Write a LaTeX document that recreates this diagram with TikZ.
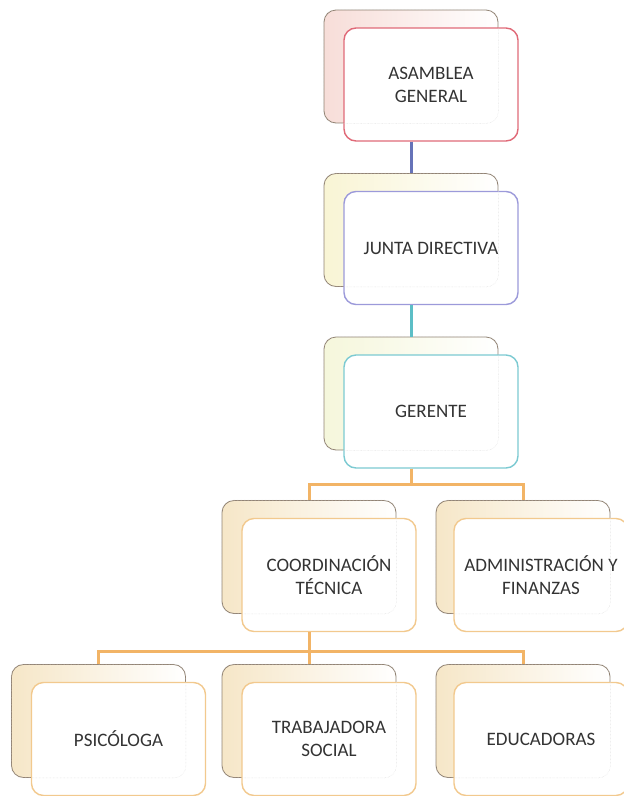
\documentclass[tikz,border=0pt]{standalone}
\usepackage{fontspec}
\setmainfont{Carlito}
\usepackage{xcolor}
\usetikzlibrary{positioning, calc}

\definecolor{txtgray}{HTML}{333333}
\definecolor{redline}{HTML}{E06A78}
\definecolor{lilacline}{HTML}{9C9ADA}
\definecolor{tealline}{HTML}{7CCAD2}
\definecolor{tanline}{HTML}{F2C98E}
\definecolor{bluelink}{HTML}{6673B8}
\definecolor{teallink}{HTML}{5CBEC6}
\definecolor{orangelink}{HTML}{F2B466}
\definecolor{pinkfill}{HTML}{F4CFC8}
\definecolor{yellowfill}{HTML}{F6F0C2}
\definecolor{limefill}{HTML}{F1F3CC}
\definecolor{tanfill}{HTML}{F2DCB0}

\begin{document}
\begin{tikzpicture}[x=1pt,y=-1pt,
    backbox/.style={draw=gray!75!brown, line width=0.8pt, rounded corners=12pt,
      minimum width=174pt, minimum height=113pt, inner sep=0pt,
      left color=#1!70, middle color=white, right color=white},
    frontbox/.style={draw=#1, line width=1.4pt, fill=white, rounded corners=12pt,
      minimum width=174pt, minimum height=113pt, inner sep=0pt, align=center,
      text=txtgray, font=\fontsize{19}{23}\selectfont},
    ghost/.style={densely dotted, gray!30, rounded corners=12pt},
    link/.style={draw=#1, line width=3pt}]
      \useasboundingbox (0,0) rectangle (624,796);

      % asamblea
      \node[backbox=pinkfill] (asambleaB) at (411,66.5) {};
      \node[frontbox=redline] (asamblea) at ($(asambleaB)+(20,18)$) {ASAMBLEA\\GENERAL};
      \draw[ghost] (asambleaB.north west) rectangle (asambleaB.south east);

      % junta
      \node[backbox=yellowfill] (juntaB) at (411,230) {};
      \node[frontbox=lilacline] (junta) at ($(juntaB)+(20,18)$) {JUNTA DIRECTIVA};
      \draw[ghost] (juntaB.north west) rectangle (juntaB.south east);

      % gerente
      \node[backbox=limefill] (gerenteB) at (411,393.5) {};
      \node[frontbox=tealline] (gerente) at ($(gerenteB)+(20,18)$) {GERENTE};
      \draw[ghost] (gerenteB.north west) rectangle (gerenteB.south east);

      % second level
      \node[backbox=tanfill] (coordB) at (309,557) {};
      \node[frontbox=tanline] (coord) at ($(coordB)+(20,18)$) {COORDINACIÓN\\TÉCNICA};
      \draw[ghost] (coordB.north west) rectangle (coordB.south east);

      \node[backbox=tanfill] (adminB) at (523,557) {};
      \node[frontbox=tanline] (admin) at ($(adminB)+(18,18)$) {ADMINISTRACIÓN Y\\FINANZAS};
      \draw[ghost] (adminB.north west) rectangle (adminB.south east);

      % third level
      \node[backbox=tanfill] (psicB) at (98.5,721) {};
      \node[frontbox=tanline] (psic) at ($(psicB)+(20,18)$) {PSICÓLOGA};
      \draw[ghost] (psicB.north west) rectangle (psicB.south east);

      \node[backbox=tanfill] (trabB) at (309,721) {};
      \node[frontbox=tanline] (trab) at ($(trabB)+(20,18)$) {TRABAJADORA\\SOCIAL};
      \draw[ghost] (trabB.north west) rectangle (trabB.south east);

      \node[backbox=tanfill] (educB) at (523,721) {};
      \node[frontbox=tanline] (educ) at ($(educB)+(18,18)$) {EDUCADORAS};
      \draw[ghost] (educB.north west) rectangle (educB.south east);

      % links
      \draw[link=bluelink] (asambleaB.south |- asamblea.south) -- (juntaB.north);
      \draw[link=teallink] (juntaB.south |- junta.south) -- (gerenteB.north);
      \draw[link=orangelink] (gerenteB.south |- gerente.south) -- ++(0,16) -| (coordB.north);
      \draw[link=orangelink] (gerenteB.south |- gerente.south) -- ++(0,16) -| (adminB.north);
      \draw[link=orangelink] (coordB.south |- coord.south) -- ++(0,19) -| (psicB.north);
      \draw[link=orangelink] (coordB.south |- coord.south) -- ++(0,19) -| (trabB.north);
      \draw[link=orangelink] (coordB.south |- coord.south) -- ++(0,19) -| (educB.north);
    \end{tikzpicture}
\end{document}
